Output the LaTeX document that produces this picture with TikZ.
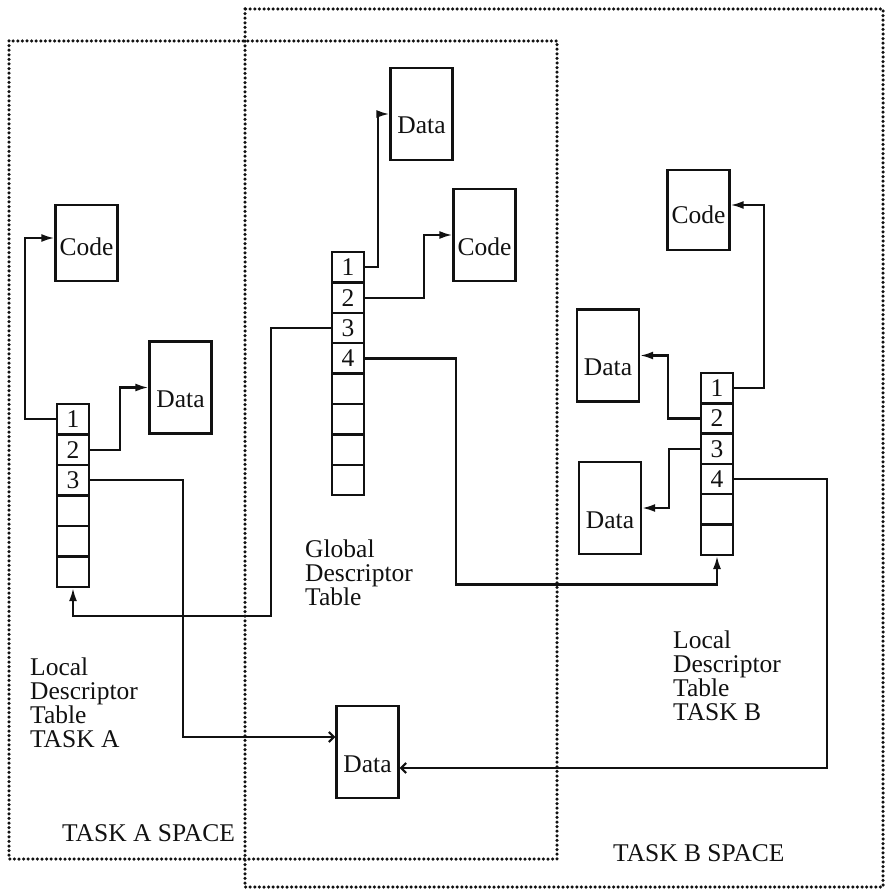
\documentclass[tikz,border=0pt]{standalone}
\usepackage{fontspec}
\setmainfont{Liberation Serif}
\usetikzlibrary{arrows.meta,calc,positioning}
\definecolor{dtInk}{HTML}{111111}
\tikzset{
 descr/.style={font=\fontsize{25.5}{24}\selectfont,line cap=butt,line join=miter,text=dtInk,x=1pt,y=-1pt},
 space/.style={draw=dtInk,line width=3.5pt,dash pattern=on 0pt off 4.6pt,line cap=round},
 seg/.style={draw=dtInk,line width=2.2pt,inner sep=0pt,minimum width=62pt,minimum height=92pt,
   text height=40pt,text depth=0pt},
 slot/.style={draw=dtInk,line width=2.2pt,inner sep=0pt,minimum width=32pt,minimum height=30.5pt},
 ptr/.style={draw=dtInk,line width=2.2pt,-{Latex[length=13pt,width=8pt]}},
 optr/.style={draw=dtInk,line width=2.2pt,-{Straight Barb[length=5pt,width=10pt]}},
 note/.style={align=left,anchor=north west,inner sep=0pt},
 spacename/.style={anchor=base west,inner sep=0pt}
}

\begin{document}
\begin{tikzpicture}[descr]
 \useasboundingbox (0,0) rectangle (885,890);
 % the two task spaces, overlapping on the global table
 \draw[space] (9,41) rectangle (557,859);
 \draw[space] (245,9) rectangle (883,887);
 % descriptor tables
 \foreach \i in {1,...,6}
  \node[slot] (la\i) at (73,{404+30.5*(\i-.5)}) {\ifnum\i<4 \i\fi};
 \foreach \i in {1,...,8}
  \node[slot] (g\i) at (348,{252+30.4*(\i-.5)}) {\ifnum\i<5 \i\fi};
 \foreach \i in {1,...,6}
  \node[slot] (lb\i) at (717,{373+30.3*(\i-.5)}) {\ifnum\i<5 \i\fi};
 % segments
 \node[seg,minimum height=76pt,text height=26pt] (codeA) at (86.5,243) {Code};
 \node[seg] (dataA) at (180.5,387.5) {Data};
 \node[seg] (gdat) at (421.5,114) {Data};
 \node[seg] (gcode) at (484.5,235) {Code};
 \node[seg,minimum height=80pt,text height=28pt] (codeB) at (698.5,210) {Code};
 \node[seg] (dataB1) at (608,355.5) {Data};
 \node[seg] (dataB2) at (610,508) {Data};
 \node[seg] (gdata) at (367.5,752) {Data};
 % pointers
 \draw[ptr] (la1.west) -- ++(-31,0) |- ([yshift=5pt]codeA.west);
 \draw[ptr] (la2.east) -- ++(30,0) |- (dataA.west);
 \draw[optr] (la3.east) -- ++(93,0) |- ([yshift=15pt]gdata.west);
 \draw[ptr] (g1.east) -- ++(13,0) |- (gdat.west);
 \draw[ptr] (g2.east) -- ++(59,0) |- (gcode.west);
 \draw[ptr] (g3.west) -- ++(-60,0) -- ++(0,288) -| (la6.south);
 \draw[ptr] (g4.east) -- ++(91,0) -- ++(0,226) -| (lb6.south);
 \draw[ptr] (lb1.east) -- ++(30,0) |- ([yshift=5pt]codeB.east);
 \draw[ptr] (lb2.west) -- ++(-32,0) |- (dataB1.east);
 \draw[ptr] (lb3.west) -- ++(-31,0) |- (dataB2.east);
 \draw[optr] (lb4.east) -- ++(93,0) |- ([yshift=-16pt]gdata.east);
 % names
 \node[note] (gdtname) at (305,540) {Global\\Descriptor\\Table};
 \node[note] (ldtA) at (30,658) {Local\\Descriptor\\Table\\TASK A};
 \node[note] (ldtB) at (673,631) {Local\\Descriptor\\Table\\TASK B};
 \node[spacename] (spA) at (62,841) {TASK A SPACE};
 \node[spacename] (spB) at (613,861) {TASK B SPACE};
\end{tikzpicture}
\end{document}
